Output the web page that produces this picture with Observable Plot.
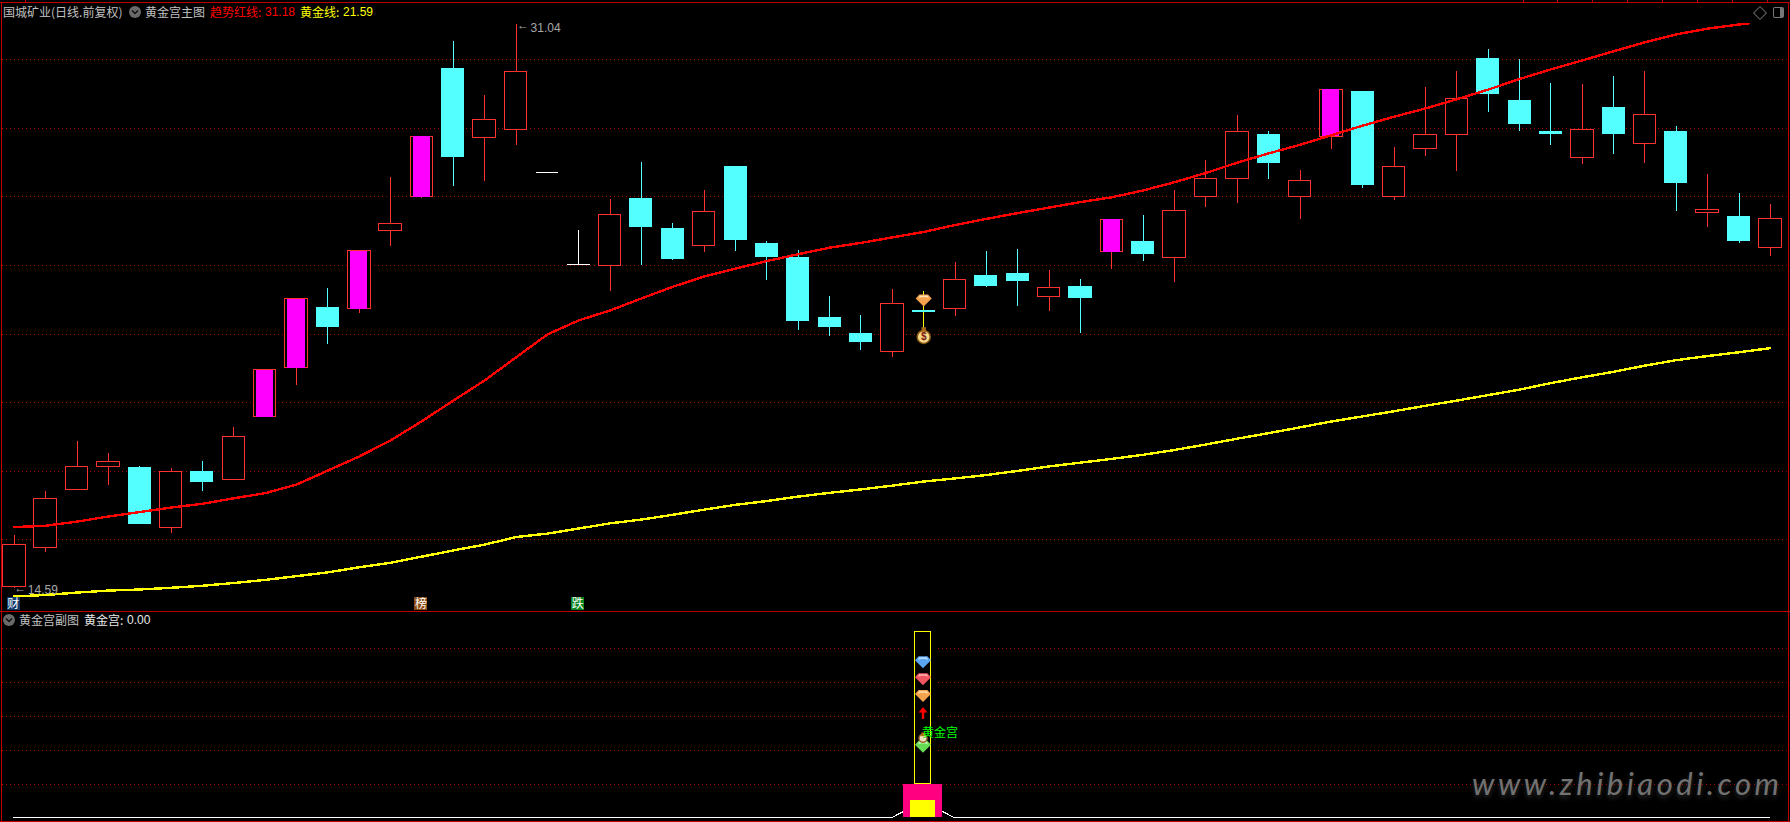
<!DOCTYPE html>
<html>
<head>
<meta charset="utf-8">
<script src="https://cdn.jsdelivr.net/npm/d3@7"></script>
<script src="https://cdn.jsdelivr.net/npm/@observablehq/plot@0.6"></script>
<style>
html,body{margin:0;padding:0;background:#000;width:1790px;height:822px;overflow:hidden}
#stage{position:relative;width:1790px;height:822px;background:#000;overflow:hidden}
#stage svg{display:block}
.t{position:absolute;white-space:pre;font:12px/14px "Liberation Sans","Noto Sans CJK SC",sans-serif;color:#c0c0c0}
.b{position:absolute;background:#c00000}
.c{position:absolute;width:12px;height:12px;border-radius:50%;background:#6a6a6a;color:#111}
</style>
</head>
<body>
<div id="stage"></div>
<script>
// Candles, in price units (left to right)
const kinds  = ["r","r","r","r","c","r","c","r","m","m","c","m","r","m","c","r","r","w","w","r","c","c","r","c","c","c","c","c","r","c","r","c","c","r","c","m","c","r","r","r","c","r","m","c","r","r","r","c","c","c","r","c","r","c","r","c","r"];
const highs  = [16.13,17.41,18.87,18.52,18.14,18.08,18.28,19.28,20.94,23.01,23.33,24.41,26.57,27.76,30.53,28.96,31.04,26.70,25.02,25.93,27.01,25.23,26.19,26.89,24.70,24.44,23.10,22.54,23.30,23.24,24.09,24.41,24.47,23.86,23.59,25.34,25.46,26.19,27.06,28.38,27.91,26.77,29.13,29.08,27.44,29.19,29.66,30.30,30.01,29.31,29.28,29.51,29.66,28.06,26.66,26.10,25.78];
const tops   = [15.85,17.20,18.13,18.28,18.11,17.98,17.99,19.00,20.94,23.01,22.78,24.41,25.22,27.76,29.75,28.25,29.65,26.70,24.02,25.48,25.96,25.08,25.55,26.89,24.64,24.23,22.48,22.02,22.89,22.69,23.59,23.71,23.77,23.33,23.39,25.34,24.70,25.58,26.53,27.90,27.82,26.47,29.13,29.08,26.88,27.81,28.86,30.04,28.81,27.91,27.96,28.61,28.40,27.91,25.63,25.43,25.36];
const bottoms= [14.62,15.76,17.45,18.12,16.45,16.34,17.67,17.74,19.58,21.01,22.19,22.73,25.00,25.99,27.15,27.71,27.95,26.70,24.02,23.98,25.11,24.18,24.58,24.73,24.23,22.37,22.19,21.76,21.49,22.63,22.72,23.39,23.53,23.08,23.04,24.38,24.32,24.23,25.99,26.52,26.98,25.99,27.76,26.33,25.99,27.39,27.80,28.99,28.11,27.82,27.13,27.82,27.54,26.39,25.53,24.70,24.51];
const lows   = [14.59,15.64,17.45,17.58,16.45,16.18,17.42,17.74,19.58,20.50,21.70,22.61,24.56,25.96,26.31,26.45,27.50,26.70,24.02,23.24,24.00,24.15,24.38,24.41,23.56,22.11,21.93,21.52,21.32,22.11,22.51,23.36,22.81,22.66,22.02,23.88,24.12,23.51,25.69,25.81,26.51,25.34,27.38,26.25,25.90,27.18,26.74,28.46,27.91,27.50,26.95,27.24,26.98,25.58,25.11,24.64,24.26];

// 趋势红线 (last point sits a little past candle 55, where the line stops)
const redIdx = [0,1,2,3,4,5,6,7,8,9,10,11,12,13,14,15,16,17,18,19,20,21,22,23,24,25,26,27,28,29,30,31,32,33,34,35,36,37,38,39,40,41,42,43,44,45,46,47,48,49,50,51,52,53,54,55,55.3];
const redVals = [16.37,16.41,16.53,16.68,16.81,16.94,17.05,17.21,17.36,17.61,18.02,18.43,18.90,19.46,20.06,20.65,21.32,21.99,22.40,22.69,23.04,23.38,23.68,23.91,24.13,24.33,24.52,24.66,24.82,24.98,25.18,25.36,25.53,25.69,25.85,25.99,26.19,26.43,26.70,27.00,27.27,27.52,27.80,28.08,28.34,28.58,28.85,29.13,29.44,29.72,29.98,30.25,30.51,30.74,30.91,31.03,31.05];
// 黄金线
const yellowVals = [14.35,14.39,14.46,14.52,14.55,14.60,14.66,14.74,14.83,14.94,15.05,15.20,15.33,15.51,15.69,15.86,16.08,16.18,16.33,16.48,16.59,16.73,16.88,17.02,17.13,17.26,17.37,17.47,17.58,17.70,17.79,17.89,18.01,18.14,18.25,18.36,18.48,18.62,18.78,18.95,19.11,19.28,19.45,19.60,19.75,19.91,20.06,20.22,20.38,20.57,20.74,20.90,21.08,21.24,21.36,21.47,21.59];

const priceGrid = [16,18,20,22,24,26,28,30];
const subGrid = [20,40,60,80,100];

const flagIdx = [0,13,18];
const flagText = ["财","榜","跌"];
const flagColor = ["#103a6a","#8a4a12","#0a8420"];
const flagPrice = 14.13;

const signalIdx = 29;
const signalHigh = 23.24, signalLow = 22.11, signalGem = 22.98, signalBag = 21.96;

// 黄金宫 panel
const subIdx = [0,28,29,30,56];
const subVals = [0,0,10,0,0];
const subGems = [
  {v:92,fill:"#5aa4f0",cap:"#b8dcff"},
  {v:82,fill:"#f0555f",cap:"#ffb4b4"},
  {v:72,fill:"#f4a24e",cap:"#ffe0b0"},
  {v:42,fill:"#66dc55",cap:"#c4f8b4"}
];

const candles = kinds.map((k,i)=>({i,k,high:highs[i],top:tops[i],bottom:bottoms[i],low:lows[i]}));
const red = redIdx.map((i,n)=>({i,v:redVals[n]}));
const yellow = yellowVals.map((v,i)=>({i,v}));
const flags = flagIdx.map((i,n)=>({i,t:flagText[n],c:flagColor[n]}));

const RED="#ff3232", CYAN="#54ffff", MAG="#ff00ff", WHITE="#ffffff", GRID="#a80000";
const crisp={shapeRendering:"crispEdges"};
const xScale={type:"linear",domain:[0,56],range:[13.8,1769.9]};
const subXScale={type:"linear",domain:[0,56],range:[13.1,1769.2]};
const sym=draw=>({draw(ctx,size){draw(ctx,Math.sqrt(size/Math.PI));}});
const gemBody=sym((c,r)=>{c.moveTo(-.55*r,-.75*r);c.lineTo(.55*r,-.75*r);c.lineTo(r,-.25*r);c.lineTo(0,.75*r);c.lineTo(-r,-.25*r);c.closePath();});
const gemCap=sym((c,r)=>{c.moveTo(-.5*r,-.62*r);c.lineTo(.5*r,-.62*r);c.lineTo(.62*r,-.3*r);c.lineTo(.3*r,-.42*r);c.lineTo(-.3*r,-.42*r);c.lineTo(-.62*r,-.3*r);c.closePath();});
const upArrow=sym((c,r)=>{c.moveTo(0,-r);c.lineTo(.75*r,-.1*r);c.lineTo(.2*r,-.1*r);c.lineTo(.2*r,r);c.lineTo(-.2*r,r);c.lineTo(-.2*r,-.1*r);c.lineTo(-.75*r,-.1*r);c.closePath();});
const by=k=>candles.filter(d=>d.k===k);
const HW=.36, CW=.367, MW=.275;

const main = Plot.plot({
  width:1790,height:611,margin:0,marginLeft:2,marginRight:2,
  style:{background:"#000",overflow:"visible"},
  x:{...xScale,axis:null},
  y:{type:"linear",domain:[16,30],range:[539.3,59.3],axis:null},
  marks:[
    Plot.ruleY(priceGrid,{stroke:GRID,strokeWidth:1,strokeDasharray:"1 3",...crisp}),
    Plot.ruleX(candles.filter(d=>d.k==="r"||d.k==="m"),{x:"i",y1:"high",y2:"low",stroke:RED,...crisp}),
    Plot.ruleX(by("c"),{x:"i",y1:"high",y2:"low",stroke:CYAN,...crisp}),
    Plot.ruleX(by("w"),{x:"i",y1:"high",y2:"low",stroke:WHITE,...crisp}),
    Plot.rect(candles.filter(d=>d.k==="r"||d.k==="m"),{x1:d=>d.i-HW,x2:d=>d.i+HW,y1:"top",y2:"bottom",fill:"#000",stroke:RED,...crisp}),
    Plot.rect(by("m"),{x1:d=>d.i-MW,x2:d=>d.i+MW,y1:"top",y2:"bottom",fill:MAG,...crisp}),
    Plot.rect(by("c"),{x1:d=>d.i-CW,x2:d=>d.i+CW,y1:"top",y2:"bottom",fill:CYAN,...crisp}),
    Plot.ruleY(by("w"),{y:"top",x1:d=>d.i-HW,x2:d=>d.i+HW,stroke:WHITE,...crisp}),
    Plot.ruleX([signalIdx],{y1:signalHigh,y2:signalLow,stroke:"#ffff00",...crisp}),
    Plot.rect([signalIdx],{x1:d=>d-CW,x2:d=>d+CW,y1:tops[signalIdx],y2:bottoms[signalIdx],fill:CYAN,...crisp}),
    Plot.line(yellow,{x:"i",y:"v",stroke:"#ffff00",strokeWidth:2.4,...crisp}),
    Plot.line(red,{x:"i",y:"v",stroke:"#ff0000",strokeWidth:2.4,...crisp}),
    Plot.dot([signalIdx],{x:d=>d,y:signalGem,r:8,symbol:gemBody,fill:"#f4a24e"}),
    Plot.dot([signalIdx],{x:d=>d,y:signalGem,r:8,symbol:gemCap,fill:"#ffe0b0"}),
    Plot.dot([signalIdx],{x:d=>d,y:signalBag,r:6.5,dy:1.5,fill:"#f6d98a",stroke:"#8a5a10"}),
    Plot.dot([signalIdx],{x:d=>d,y:signalBag,r:2.5,dy:-6,symbol:"square",fill:"#a86a14"}),
    Plot.text([signalIdx],{x:d=>d,y:signalBag,dy:1.5,text:()=>"$",fill:"#7a1a10",fontSize:10,fontWeight:"bold",fontFamily:"Liberation Sans"}),
    Plot.text([{i:0,v:lows[0]}],{x:"i",y:"v",text:()=>"←",dy:0,textAnchor:"start",fill:"#a8a8a8",fontSize:12,fontFamily:"Liberation Sans"}),
    Plot.text([{i:0,v:lows[0]}],{x:"i",y:"v",text:()=>"14.59",dx:13.5,dy:2.5,textAnchor:"start",fill:"#a8a8a8",fontSize:12,fontFamily:"Liberation Sans"}),
    Plot.text([{i:16,v:highs[16]}],{x:"i",y:"v",text:()=>"←",dx:1,dy:1,textAnchor:"start",fill:"#a8a8a8",fontSize:12,fontFamily:"Liberation Sans"}),
    Plot.text([{i:16,v:highs[16]}],{x:"i",y:"v",text:()=>"31.04",dx:14.5,dy:4.5,textAnchor:"start",fill:"#a8a8a8",fontSize:12,fontFamily:"Liberation Sans"}),
    Plot.dot(flags,{x:"i",y:flagPrice,r:7.3,symbol:"square",fill:"c",dx:-1,...crisp}),
    Plot.text(flags,{x:"i",y:flagPrice,text:"t",fill:"#fff",fontSize:12,dx:-1,fontFamily:"Noto Sans CJK SC"})
  ]
});

const col=[signalIdx];
const sub = Plot.plot({
  width:1790,height:211,margin:0,marginLeft:2,marginRight:2,
  style:{background:"#000",overflow:"visible"},
  x:{...subXScale,axis:null},
  y:{type:"linear",domain:[0,100],range:[206.3,37.3],axis:null},
  marks:[
    Plot.ruleY(subGrid,{stroke:GRID,strokeWidth:1,strokeDasharray:"1 3",...crisp}),
    Plot.line(subIdx.map((i,n)=>({i,v:subVals[n]})),{x:"i",y:"v",stroke:"#fff",strokeWidth:1.2,...crisp}),
    Plot.rect(col,{x1:d=>d-.4,x2:d=>d+.4,y1:20,y2:110,fill:"#000",...crisp}),
    Plot.rect(col,{x1:d=>d-.26,x2:d=>d+.26,y1:20,y2:110,fill:"none",stroke:"#ffff00",...crisp}),
    Plot.rect(col,{x1:d=>d-.62,x2:d=>d+.62,y1:0,y2:20,fill:"#ff0080",...crisp}),
    Plot.rect(col,{x1:d=>d-.4,x2:d=>d+.4,y1:0,y2:10,fill:"#ffff00",...crisp}),
    Plot.dot(subGems,{x:()=>signalIdx,y:"v",r:8,symbol:gemBody,fill:"fill"}),
    Plot.dot(subGems,{x:()=>signalIdx,y:"v",r:8,symbol:gemCap,fill:"cap"}),
    Plot.dot(col,{x:d=>d,y:62,r:6,symbol:upArrow,fill:"#ff0000"}),
    Plot.dot(col,{x:d=>d,y:47,r:4,fill:"#f0e0c0",stroke:"#9a6a30"}),
    Plot.dot(col,{x:d=>d,y:47,dy:-4,r:2,symbol:"square",fill:"#a86a14"}),
    Plot.text(col,{x:d=>d,y:50,dx:-1,text:()=>"黄金宫",textAnchor:"start",fill:"#00ff00",fontSize:12,fontFamily:"Noto Sans CJK SC"})
  ]
});
sub.style.position="absolute";sub.style.left="0";sub.style.top="611px";
main.style.position="absolute";main.style.left="0";main.style.top="0";

const stage=document.getElementById("stage");
stage.append(main,sub);

function label(x,y,txt,color,extra){
  const d=document.createElement("div");d.className="t";d.textContent=txt;
  d.style.left=x+"px";d.style.top=(y-7)+"px";d.style.color=color;
  if(extra)Object.assign(d.style,extra);
  stage.append(d);return d;
}
function border(x,y,w,h){const d=document.createElement("div");d.className="b";
  Object.assign(d.style,{left:x+"px",top:y+"px",width:w+"px",height:h+"px"});stage.append(d);}
function chevron(x,y){const d=document.createElement("div");d.className="c";
  d.style.left=(x-6)+"px";d.style.top=(y-6)+"px";
  d.innerHTML='<svg width="12" height="12" viewBox="0 0 12 12"><path d="M3 4.5L6 7.5L9 4.5" fill="none" stroke="#111" stroke-width="1.5"/></svg>';
  stage.append(d);}

border(0,2,1790,1);border(1,2,1,820);border(1788,2,1,820);border(0,611,1790,1);border(0,821,1790,1);
[25,1523,1557,1592,1627,1662,1697,1732,1767].forEach(x=>border(x,0,1,2));

const cjk={fontFamily:'"Noto Sans CJK SC",sans-serif'};
label(3,12,"国城矿业(日线.前复权)","#c0c0c0",cjk);
chevron(135,12);
label(145,12,"黄金宫主图","#c0c0c0",cjk);
label(210,12,"趋势红线:","#ff0000",cjk);
label(265,12,"31.18","#ff0000");
label(300,12,"黄金线:","#ffff00",cjk);
label(343,12,"21.59","#ffff00");
chevron(9,620);
label(19,620,"黄金宫副图","#c0c0c0",cjk);
label(84,620,"黄金宫:","#e8e8e8",cjk);
label(127,620,"0.00","#e8e8e8");

const dia=document.createElement("div");
Object.assign(dia.style,{position:"absolute",left:"1755px",top:"8px",width:"8px",height:"8px",border:"1px solid #666",transform:"rotate(45deg)"});
stage.append(dia);
const btn=document.createElement("div");
Object.assign(btn.style,{position:"absolute",left:"1773px",top:"7px",width:"6px",height:"9px",border:"1px solid #777",borderRadius:"2px",borderRightWidth:"4px"});
stage.append(btn);

label(1472,785,"www.zhibiaodi.com","#727272",{font:'italic 31px/31px "Lato","Open Sans",sans-serif',letterSpacing:"3.5px",top:"768px",textShadow:"0 3px 5px rgba(110,110,110,.4)"});
</script>
</body>
</html>
